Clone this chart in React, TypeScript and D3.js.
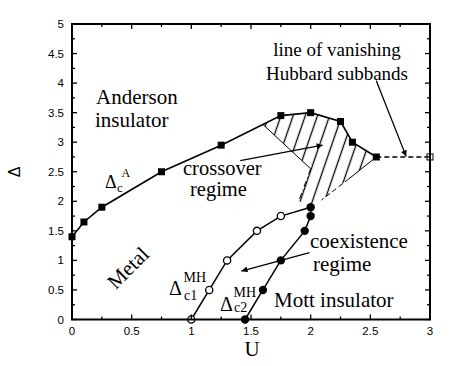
import React from 'react';
import * as d3 from 'd3';

// Anderson transition line (filled squares)
const andersonU = [0, 0.1, 0.25, 0.75, 1.25, 1.75, 2, 2.25, 2.35, 2.55];
const andersonD = [1.4, 1.65, 1.9, 2.5, 2.95, 3.45, 3.5, 3.35, 3.0, 2.75];
// line of vanishing Hubbard subbands (dashed)
const vanishU = [2.55, 3];
const vanishD = [2.75, 2.75];
// Delta_c1^MH (open circles) and Delta_c2^MH (filled circles)
const mh1U = [1, 1.15, 1.3, 1.55, 1.75];
const mh1D = [0, 0.5, 1, 1.5, 1.75];
const mh2U = [1.45, 1.6, 1.75, 1.95, 2, 2];
const mh2D = [0, 0.5, 1, 1.5, 1.75, 1.9];
// crossover (hatched) region boundary
const crossU = [1.6, 1.75, 2, 2.25, 2.35, 2.55, 2.32, 2.09, 2.0, 1.9, 2.0];
const crossD = [3.3, 3.45, 3.5, 3.35, 3.0, 2.75, 2.38, 2.02, 1.92, 2.0, 2.55];

const xTickLabels = ['0', '0.5', '1', '1.5', '2', '2.5', '3'];
const yTickLabels = ['0', '0.5', '1', '1.5', '2', '2.5', '3', '3.5', '4', '4.5', '5'];

const W = 457;
const H = 366;
const margin = { left: 72, right: 27, top: 24, bottom: 46.5 };

const serif = '"Liberation Serif", "Times New Roman", serif';
const sans = '"Liberation Sans", Arial, sans-serif';

export default function App() {
  const x = d3.scaleLinear().domain([0, 3]).range([margin.left, W - margin.right]);
  const y = d3.scaleLinear().domain([0, 5]).range([H - margin.bottom, margin.top]);

  const line = d3.line<[number, number]>().x(d => x(d[0])).y(d => y(d[1]));
  const pts = (us: number[], ds: number[]) => us.map((u, i) => [u, ds[i]] as [number, number]);

  const anderson = pts(andersonU, andersonD);
  const mh1 = pts(mh1U, mh1D);
  const mh2 = pts(mh2U, mh2D);
  const cross = pts(crossU, crossD);

  // hatch pattern, one line passing through the top Mott point
  const ang = 19;
  const hw = 11.5;
  const th = (ang * Math.PI) / 180;
  const px = x(2), py = y(1.92);
  const u0 = px * Math.cos(th) + py * Math.sin(th);
  const hx = ((u0 % hw) + hw) % hw;

  const xTicks = d3.range(0, 3.001, 0.25);
  const yTicks = d3.range(0, 5.001, 0.25);
  const isMajor = (v: number) => Math.abs(v * 2 - Math.round(v * 2)) < 1e-6;

  const arrows = [
    { u1: 2.55, d1: 4.04, u2: 2.8, d2: 2.76 },
    { u1: 1.41, d1: 2.69, u2: 2.1, d2: 2.95 },
    { u1: 1.99, d1: 1.13, u2: 1.42, d2: 0.82 },
  ];

  return (
    <svg width={W} height={H} style={{ position: 'absolute', left: 0, top: 0, background: '#fff' }}>
      <defs>
        <pattern id="hatch" patternUnits="userSpaceOnUse" width={hw} height={40}
          patternTransform={`rotate(${ang})`}>
          <line x1={hx} y1={0} x2={hx} y2={40} stroke="#000" strokeWidth={1.3} />
        </pattern>
        <marker id="arr" viewBox="0 0 10 10" refX={10} refY={5} markerWidth={9} markerHeight={6}
          markerUnits="userSpaceOnUse" orient="auto">
          <path d="M0,0L10,5L0,10z" fill="#000" />
        </marker>
      </defs>

      {/* hatched crossover region */}
      <path d={line(cross) + 'Z'} fill="url(#hatch)" stroke="none" />
      <path d={line([cross[0], cross[10]])!} stroke="#000" strokeWidth={1} fill="none" />
      <path d={line([cross[10], cross[9]])!} stroke="#000" strokeWidth={1} fill="none" strokeDasharray="6 3 1 3" />
      <path d={line([cross[5], cross[6]])!} stroke="#000" strokeWidth={1} fill="none" />
      <path d={line([cross[6], cross[7]])!} stroke="#000" strokeWidth={1} fill="none" strokeDasharray="5 3" />

      {/* curves */}
      <path d={line(anderson)!} stroke="#000" strokeWidth={1.6} fill="none" />
      <path d={line(pts(vanishU, vanishD))!} stroke="#000" strokeWidth={1.3} fill="none" strokeDasharray="5 3" />
      <path d={line([...mh1, [mh2U[5], mh2D[5]]])!} stroke="#000" strokeWidth={1.5} fill="none" />
      <path d={line(mh2)!} stroke="#000" strokeWidth={1.5} fill="none" />

      {anderson.map((p, i) => (
        <rect key={'a' + i} x={x(p[0]) - 3.5} y={y(p[1]) - 3.5} width={7} height={7} fill="#000" />
      ))}
      <rect x={x(vanishU[1]) - 3} y={y(vanishD[1]) - 3} width={6} height={6} fill="#fff" stroke="#000" strokeWidth={1} />
      {mh1.map((p, i) => (
        <circle key={'o' + i} cx={x(p[0])} cy={y(p[1])} r={3.6} fill="#fff" stroke="#000" strokeWidth={1.3} />
      ))}
      {mh2.map((p, i) => (
        <circle key={'f' + i} cx={x(p[0])} cy={y(p[1])} r={4.2} fill="#000" />
      ))}

      {/* arrows */}
      {arrows.map((a, i) => (
        <line key={'ar' + i} x1={x(a.u1)} y1={y(a.d1)} x2={x(a.u2)} y2={y(a.d2)}
          stroke="#000" strokeWidth={1.3} markerEnd="url(#arr)" />
      ))}

      {/* frame & ticks */}
      <rect x={margin.left} y={margin.top} width={W - margin.left - margin.right}
        height={H - margin.top - margin.bottom} fill="none" stroke="#000" strokeWidth={2} />
      {xTicks.map(v => {
        const l = isMajor(v) ? 5 : 3;
        return (
          <g key={'xt' + v}>
            <line x1={x(v)} x2={x(v)} y1={y(0)} y2={y(0) - l} stroke="#000" strokeWidth={1.3} />
            <line x1={x(v)} x2={x(v)} y1={y(5)} y2={y(5) + l} stroke="#000" strokeWidth={1.3} />
          </g>
        );
      })}
      {yTicks.map(v => {
        const l = isMajor(v) ? 5 : 3;
        return (
          <g key={'yt' + v}>
            <line x1={x(0)} x2={x(0) + l} y1={y(v)} y2={y(v)} stroke="#000" strokeWidth={1.3} />
            <line x1={x(3)} x2={x(3) - l} y1={y(v)} y2={y(v)} stroke="#000" strokeWidth={1.3} />
          </g>
        );
      })}
      {xTickLabels.map((t, i) => (
        <text key={'xl' + t} x={x(i * 0.5)} y={334.5} textAnchor="middle" fontFamily={sans} fontSize={11.5}>{t}</text>
      ))}
      {yTickLabels.map((t, i) => (
        <text key={'yl' + t} x={64} y={y(i * 0.5) + 4} textAnchor="end" fontFamily={sans} fontSize={11.5}>{t}</text>
      ))}

      {/* axis titles */}
      <text x={0} y={0} transform="translate(14,172) rotate(-90)" textAnchor="middle" dominantBaseline="central"
        fontFamily={sans} fontSize={16}>Δ</text>
      <text x={252} y={356} textAnchor="middle" fontFamily={serif} fontSize={21}>U</text>

      {/* region labels */}
      <g fontFamily={serif} fontSize={21} fill="#000">
        <text x={96} y={104}>Anderson</text>
        <text x={95} y={127}>insulator</text>
        <text x={337} y={56} textAnchor="middle" fontSize={19}>line of vanishing</text>
        <text x={337} y={80} textAnchor="middle" fontSize={19}>Hubbard subbands</text>
        <text x={183} y={175} fontSize={20.5}>crossover</text>
        <text x={190} y={196} fontSize={20.5}>regime</text>
        <text x={310} y={248}>coexistence</text>
        <text x={313} y={271}>regime</text>
        <text x={274} y={307}>Mott insulator</text>
        <text x={0} y={0} transform="translate(128,268) rotate(-45)" textAnchor="middle" dominantBaseline="central">Metal</text>
      </g>

      {/* curve labels */}
      <g fontFamily={serif} fill="#000">
        <text x={105} y={188} fontSize={18}>Δ</text>
        <text x={117} y={191.5} fontSize={13}>c</text>
        <text x={121.5} y={176.5} fontSize={12}>A</text>

        <text x={169} y={295} fontSize={20}>Δ</text>
        <text x={184} y={300} fontSize={14}>c1</text>
        <text x={183.5} y={282} fontSize={14}>MH</text>

        <text x={220} y={311} fontSize={20}>Δ</text>
        <text x={234} y={312} fontSize={14}>c2</text>
        <text x={233.5} y={296.5} fontSize={14}>MH</text>
      </g>
    </svg>
  );
}
